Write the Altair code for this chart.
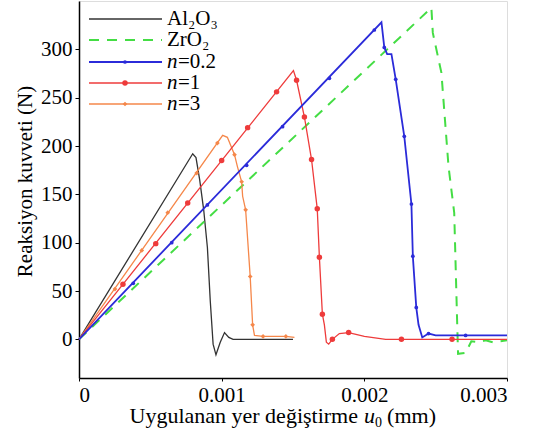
import altair as alt
import pandas as pd

# ---------------- data ----------------
al_x = [0, 0.000797, 0.00082, 0.000846, 0.000874, 0.0009, 0.00092, 0.00094, 0.00096, 0.00099, 0.00102, 0.00105, 0.00108, 0.0012, 0.0015]
al_y = [0, 192, 188, 165, 134, 95, 40, -5, -16, -3, 7, 2, 0, 0, 0]

zr_x = [0, 0.00247, 0.00248, 0.00254, 0.00259, 0.00263, 0.00265, 0.002657, 0.00271, 0.00275, 0.0028, 0.00285, 0.0029, 0.003]
zr_y = [0, 343, 317, 276, 179, 131, 21, -15, -14, -2, -3, -1, -3, -1]

b_x = [0, 0.00212, 0.00214, 0.00216, 0.00219, 0.00222, 0.00228, 0.00233, 0.00234, 0.002364, 0.00238, 0.002406, 0.00245, 0.0025, 0.0027, 0.003]
b_y = [0, 328, 302, 295, 295, 269, 210, 140, 86, 33, 15, 2, 6, 4, 4, 4]
b_mx = [0.00038, 0.00065, 0.0009, 0.001175, 0.001427, 0.001755, 0.00207, 0.00214, 0.00222, 0.00228, 0.00233, 0.00234, 0.002364, 0.00245, 0.00271]
b_my = [58, 100, 139, 180, 220, 270, 320, 302, 269, 210, 140, 86, 33, 6, 4]

r_x = [0, 0.001503, 0.001525, 0.00158, 0.00163, 0.00167, 0.001685, 0.001706, 0.00172, 0.001734, 0.00175, 0.001776, 0.001825, 0.00189, 0.002, 0.00215, 0.00226, 0.0026, 0.003]
r_y = [0, 278, 268, 230, 186, 135, 85, 26, 15, -3, -5, 0, 6, 7, 3, 0, 0, 0, 0]
r_mx = [0.000308, 0.000538, 0.000762, 0.001, 0.001182, 0.001385, 0.001525, 0.00158, 0.00163, 0.00167, 0.001685, 0.001706, 0.001776, 0.00189, 0.00226, 0.002615]
r_my = [57, 99, 141, 185, 219, 256, 268, 230, 186, 135, 85, 26, 0, 7, 0, 0]

o_x = [0, 0.001007, 0.00104, 0.00109, 0.00111, 0.00114, 0.001147, 0.001168, 0.0012, 0.001217, 0.00123, 0.00129, 0.00145, 0.00151]
o_y = [0, 211, 209, 191, 179, 163, 148, 134, 65, 15, 4, 3, 3, 2]
o_mx = [0.000252, 0.00044, 0.000622, 0.000825, 0.00097, 0.00109, 0.00114, 0.001168, 0.0012, 0.001217, 0.00129, 0.00145]
o_my = [52, 92, 131, 172, 203, 191, 163, 134, 65, 15, 3, 3]

x_ticks = [0, 0.001, 0.002, 0.003]
y_ticks = [0, 50, 100, 150, 200, 250, 300]

FONT = "Liberation Serif"
C_AL, C_ZR, C_B, C_R, C_O = "#333333", "#44dd44", "#2b2bd9", "#ee3b3b", "#f5874a"

xs = alt.Scale(domain=[0, 0.003], nice=False, zero=False)
ys = alt.Scale(domain=[-40, 350], nice=False, zero=False)


def line_df(x, y):
    return pd.DataFrame({"x": x, "y": y, "o": list(range(len(x)))})


def pts_df(x, y):
    return pd.DataFrame({"x": x, "y": y})


xenc = alt.X("x:Q", scale=xs, axis=alt.Axis(
    values=x_ticks, title=None, labelExpr="datum.value == 0 ? '0' : format(datum.value, '.3f')",
    labelFont=FONT, labelFontSize=21, labelColor="black", tickSize=3, labelPadding=3,
    tickColor="black", domainColor="black", domainWidth=1.5, grid=False))
yenc = alt.Y("y:Q", scale=ys, axis=alt.Axis(
    values=y_ticks, title="Reaksiyon kuvveti (N)", titleFont=FONT, titleFontSize=21,
    titleFontWeight="normal", titleColor="black", titleX=-44, titleY=180,
    labelFont=FONT, labelFontSize=21, labelColor="black", tickSize=4, labelPadding=3,
    tickColor="black", domainColor="black", domainWidth=1.5, grid=False))


def line(x, y, color, width, dash=None):
    kw = dict(color=color, strokeWidth=width)
    if dash:
        kw["strokeDash"] = dash
    return alt.Chart(line_df(x, y)).mark_line(**kw).encode(x=xenc, y=yenc, order="o:Q")


def pts(x, y, color, size, shape="circle", filled=True, opacity=1.0):
    return alt.Chart(pts_df(x, y)).mark_point(
        shape=shape, filled=filled, color=color, size=size, opacity=opacity).encode(x=xenc, y=yenc)


layers = [
    line(al_x, al_y, C_AL, 1.3),
    line(zr_x, zr_y, C_ZR, 2.0, [10, 8]),
    line(o_x, o_y, C_O, 1.3),
    pts(o_mx, o_my, C_O, 22, shape="diamond"),
    line(r_x, r_y, C_R, 1.3),
    pts(r_mx, r_my, C_R, 30),
    line(b_x, b_y, C_B, 1.8),
    pts(b_mx, b_my, C_B, 14),
]

# ---------------- manual legend (layout in pixels) ----------------
one = pd.DataFrame({"a": [0]})
leg_rows = [
    ("Al₂O₃", None, C_AL, 1.3, None, 0),
    ("ZrO₂", None, C_ZR, 2.0, [10, 8], 0),
    ("n", "=0.2", C_B, 1.8, None, 14),
    ("n", "=1", C_R, 1.3, None, 30),
    ("n", "=3", C_O, 1.3, None, 22),
]
row_y = [18, 39, 61, 82, 103]
for (lab, rest, col, w, dash, msize), yy in zip(leg_rows, row_y):
    kw = dict(color=col, strokeWidth=w)
    if dash:
        kw["strokeDash"] = dash
    layers.append(alt.Chart(one).mark_rule(**kw).encode(
        x=alt.value(10), x2=alt.value(83), y=alt.value(yy)))
    if msize:
        layers.append(alt.Chart(one).mark_point(filled=True, color=col, size=msize,
                                                 shape="diamond" if col == C_O else "circle", opacity=1).encode(
            x=alt.value(46), y=alt.value(yy)))
    if rest is None:
        layers.append(alt.Chart(one).mark_text(text=lab, font=FONT, fontSize=21, align="left",
                                                baseline="middle", color="black").encode(
            x=alt.value(88), y=alt.value(yy)))
    else:
        layers.append(alt.Chart(one).mark_text(text=lab, font=FONT, fontSize=21, fontStyle="italic",
                                                align="left", baseline="middle", color="black").encode(
            x=alt.value(88), y=alt.value(yy)))
        layers.append(alt.Chart(one).mark_text(text=rest, font=FONT, fontSize=21, align="left",
                                                baseline="middle", color="black").encode(
            x=alt.value(99), y=alt.value(yy)))

# ---------------- x-axis title with italic u and subscript 0 ----------------
tbase = 422
layers += [
    alt.Chart(one).mark_text(text="Uygulanan yer değiştirme", font=FONT, fontSize=22, align="right",
                             baseline="alphabetic", color="black").encode(x=alt.value(279), y=alt.value(tbase)),
    alt.Chart(one).mark_text(text="u", font=FONT, fontSize=22, fontStyle="italic", align="left",
                             baseline="alphabetic", color="black").encode(x=alt.value(285), y=alt.value(tbase)),
    alt.Chart(one).mark_text(text="0", font=FONT, fontSize=14, align="left",
                             baseline="alphabetic", color="black").encode(x=alt.value(296), y=alt.value(tbase + 4)),
    alt.Chart(one).mark_text(text="(mm)", font=FONT, fontSize=22, align="right",
                             baseline="alphabetic", color="black").encode(x=alt.value(357), y=alt.value(tbase)),
]

chart = alt.layer(*layers).properties(
    width=428, height=377,
    autosize=alt.AutoSizeParams(type="none"),
    padding={"left": 79, "top": 1, "right": 33, "bottom": 61},
).configure_view(stroke="#999999", strokeWidth=1.5).configure(background="white")

chart.save("out.html", embed_options={"renderer": "svg", "actions": False})
